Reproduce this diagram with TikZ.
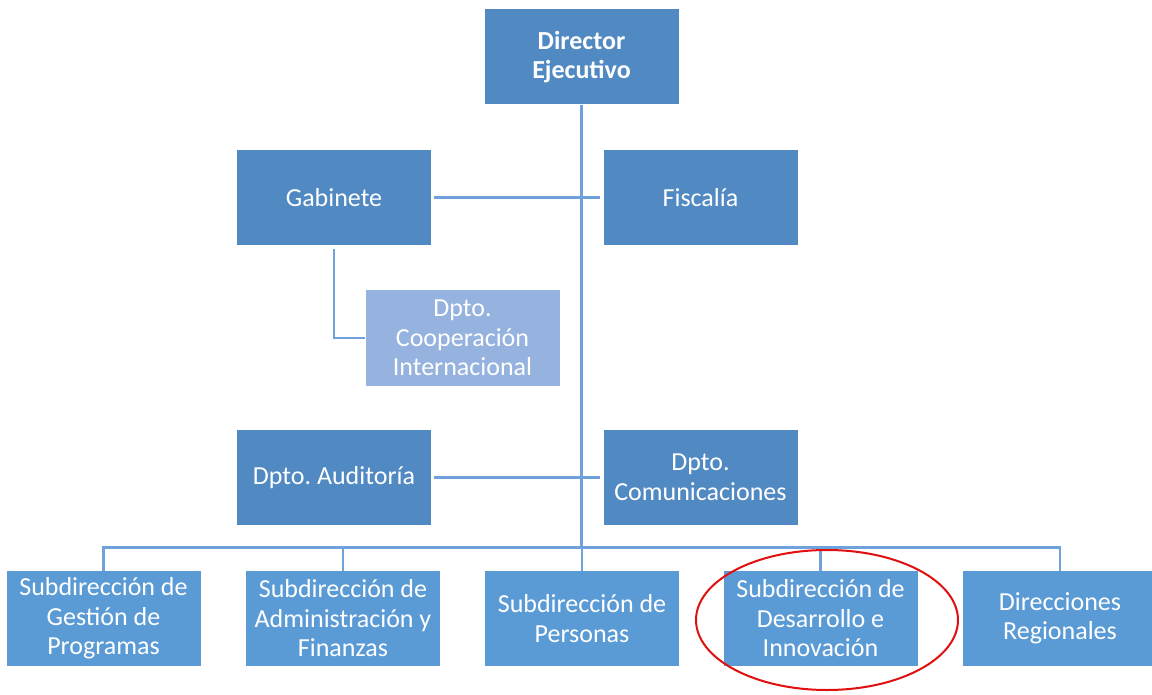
\documentclass[tikz,border=0pt]{standalone}
\usepackage{fontspec}
\usetikzlibrary{shapes.geometric}
\setmainfont{Carlito}
\frenchspacing
\definecolor{dark}{HTML}{5189C2}
\definecolor{mid}{HTML}{5B9BD5}
\definecolor{light}{HTML}{95B3DE}
\definecolor{conn}{HTML}{6FA2DC}
\definecolor{ring}{HTML}{E01010}
\begin{document}
\begin{tikzpicture}[x=1pt,y=-1pt,
  box/.style={rectangle,inner sep=0pt,minimum width=194pt,minimum height=95pt,
    text=white,align=center,font=\fontsize{26}{29.5}\selectfont},
  darkbox/.style={box,fill=dark},
  midbox/.style={box,fill=mid},
  lightbox/.style={box,fill=light},
  link/.style={draw=conn,line width=2.5pt}]
\useasboundingbox (0,0) rectangle (1152,695);
\fill[white] (0,0) rectangle (1152,695);
\node[darkbox,font=\fontsize{26}{29.5}\selectfont\bfseries] (dir) at (581.5,57) {Director\\Ejecutivo};
\node[darkbox] (gab) at (334,197.5) {Gabinete};
\node[darkbox] (fis) at (700.5,197.5) {Fiscalía};
\node[lightbox] (coop) at (462.5,338) {Dpto.\\Cooperación\\Internacional};
\node[darkbox] (aud) at (334,477.5) {Dpto.\ Auditoría};
\node[darkbox] (com) at (700.5,477.5) {Dpto.\\Comunicaciones};
\node[midbox] (s1) at (103.5,618.5) {Subdirección de\\Gestión de\\Programas};
\node[midbox] (s2) at (343,618.5) {Subdirección de\\Administración y\\Finanzas};
\node[midbox] (s3) at (582,618.5) {Subdirección de\\Personas};
\node[midbox] (s4) at (820.5,618.5) {Subdirección de\\Desarrollo e\\Innovación};
\node[midbox] (s5) at (1060,618.5) {Direcciones\\Regionales};
\coordinate (bus) at (582,547.5);
\path[link] (dir.south) -- (dir.south |- bus);
\path[link] ([xshift=3pt]gab.east) -- ([xshift=-3pt]fis.west);
\path[link] ([xshift=3pt]aud.east) -- ([xshift=-3pt]com.west);
\path[link] ([yshift=-4pt]gab.south) |- (coop.west);
\path[link] (s1.north) |- (bus) -| (s5.north);
\path[link] (s2.north) -- (s2.north |- bus);
\path[link] (s3.north) -- (s3.north |- bus);
\path[link] (s4.north) -- (s4.north |- bus);
\node[draw=ring,line width=2pt,ellipse,minimum width=262pt,minimum height=140pt,inner sep=0pt] (mark) at (827,620) {};
\end{tikzpicture}
\end{document}
